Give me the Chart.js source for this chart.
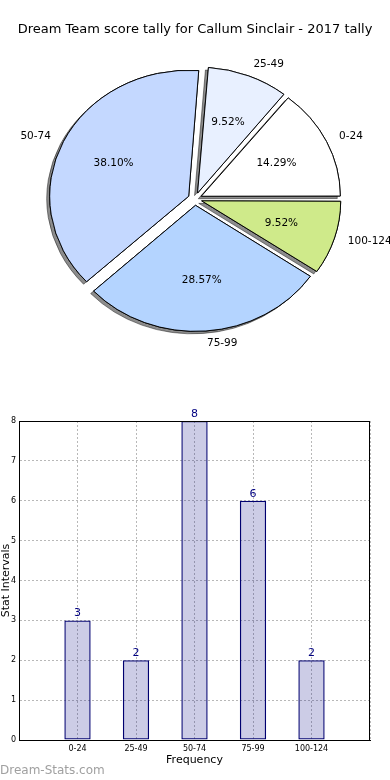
<!DOCTYPE html>
<html>
<head>
<meta charset="utf-8">
<script src="https://cdn.jsdelivr.net/npm/chart.js@4/dist/chart.umd.min.js"></script>
<style>
  html, body { margin: 0; padding: 0; background: #fff; }
  #wrap { position: relative; width: 390px; height: 780px; overflow: hidden; }
  canvas { position: absolute; left: 0; }
  #pie { top: 0; }
  #bar { top: 390px; }
</style>
</head>
<body>
<div id="wrap">
  <canvas id="pie" width="390" height="390"></canvas>
  <canvas id="bar" width="390" height="390"></canvas>
</div>
<script>
// ---- data ----
const chartTitle = 'Dream Team score tally for Callum Sinclair - 2017 tally';
const categories = ['0-24', '25-49', '50-74', '75-99', '100-124'];
const counts = [3, 2, 8, 6, 2];
const xAxisTitle = 'Frequency';
const yAxisTitle = 'Stat Intervals';
const yTicks = [0, 1, 2, 3, 4, 5, 6, 7, 8];
const watermark = 'Dream-Stats.com';

// ---- styles ----
const pieColors = ['#ffffff', '#e8f0ff', '#c4d8ff', '#b4d4ff', '#cfea8a'];
const FONT = 'DejaVu Sans';
const PIE_R = 139;
const PIE_K = 126 / 139;      // vertical squash (ellipse)
const EXPLODE = 7;            // px
const total = counts.reduce((a, b) => a + b, 0);

// Chart.js goes clockwise from the top; reverse so the order runs counter-clockwise from east
const rev = a => a.slice().reverse();

const piePlugin = {
  id: 'piePlugin',
  afterDatasetsUpdate(chart) {
    chart.getDatasetMeta(0).data.forEach(el => {
      const fix = 1 - Math.sin(Math.min(Math.PI, el.circumference));
      el.outerRadius = PIE_R - EXPLODE * fix;
    });
  },
  beforeDatasetsDraw(chart) {
    const ctx = chart.ctx;
    const arcs = chart.getDatasetMeta(0).data;
    const cx = arcs[0].x, cy = arcs[0].y;
    ctx.save();
    ctx.translate(cx, cy); ctx.scale(1, PIE_K); ctx.translate(-cx, -cy);
    ctx.save();
    ctx.shadowColor = 'rgba(0,0,0,0.45)';
    ctx.shadowOffsetX = -3;
    ctx.shadowOffsetY = 2.5;
    ctx.shadowBlur = 0;
    arcs.forEach(a => a.draw(ctx));
    ctx.restore();
  },
  afterDatasetsDraw(chart) {
    const ctx = chart.ctx;
    ctx.restore();
    const arcs = chart.getDatasetMeta(0).data;
    const vals = chart.data.datasets[0].data;
    ctx.save();
    ctx.fillStyle = '#000';
    ctx.font = '10.5px "' + FONT + '"';
    ctx.textBaseline = 'middle';
    arcs.forEach((a, i) => {
      const mid = (a.startAngle + a.endAngle) / 2;
      const c = Math.cos(mid), s = Math.sin(mid);
      const lx = a.x + (EXPLODE + 1.1 * PIE_R) * c;
      const ly = a.y + (EXPLODE + 1.1 * PIE_R) * s * PIE_K;
      ctx.textAlign = c > 0 ? 'left' : 'right';
      ctx.fillText(chart.data.labels[i], lx, ly);
      const px = a.x + (EXPLODE + 0.6 * PIE_R) * c;
      const py = a.y + (EXPLODE + 0.6 * PIE_R) * s * PIE_K;
      ctx.textAlign = 'center';
      ctx.fillText((vals[i] / total * 100).toFixed(2) + '%', px, py);
    });
    ctx.font = '13px "' + FONT + '"';
    ctx.textAlign = 'center';
    ctx.fillText(chartTitle, chart.width / 2, 30);
    ctx.restore();
  }
};

new Chart(document.getElementById('pie'), {
  type: 'pie',
  data: {
    labels: rev(categories),
    datasets: [{
      data: rev(counts),
      backgroundColor: rev(pieColors),
      borderColor: '#000',
      borderWidth: 1,
      offset: EXPLODE * 4,
      radius: PIE_R,
      clip: false
    }]
  },
  options: {
    responsive: false,
    animation: false,
    events: [],
    rotation: 90,
    layout: { padding: { top: 8 } },
    plugins: { legend: { display: false }, tooltip: { enabled: false } }
  },
  plugins: [piePlugin]
});

const barPlugin = {
  id: 'barPlugin',
  afterDatasetsDraw(chart) {
    const ctx = chart.ctx;
    const meta = chart.getDatasetMeta(0);
    const vals = chart.data.datasets[0].data;
    ctx.save();
    ctx.fillStyle = '#000080';
    ctx.font = '11px "' + FONT + '"';
    ctx.textAlign = 'center';
    ctx.textBaseline = 'bottom';
    meta.data.forEach((b, i) => {
      if (vals[i] == null) return;
      ctx.fillText(String(vals[i]), b.x, b.y - 1.5);
    });
    ctx.restore();
  },
  afterDraw(chart) {
    const ctx = chart.ctx;
    const a = chart.chartArea;
    ctx.save();
    ctx.strokeStyle = '#000';
    ctx.lineWidth = 1;
    ctx.strokeRect(Math.round(a.left) + 0.5, Math.round(a.top) + 0.5, Math.round(a.right - a.left) - 1, Math.round(a.bottom - a.top));
    ctx.fillStyle = '#000';
    ctx.font = '11px "' + FONT + '"';
    ctx.textAlign = 'center';
    ctx.textBaseline = 'middle';
    ctx.fillText(xAxisTitle, (a.left + a.right) / 2, 370);
    ctx.save();
    ctx.translate(8.5, (a.top + a.bottom) / 2);
    ctx.rotate(-Math.PI / 2);
    ctx.textBaseline = 'alphabetic';
    ctx.fillText(yAxisTitle, 0, 0);
    ctx.restore();
    ctx.fillStyle = '#a0a0a0';
    ctx.font = '12px "' + FONT + '"';
    ctx.textAlign = 'left';
    ctx.fillText(watermark, 0, 381);
    ctx.restore();
  }
};

const gridStyle = { color: 'rgba(0,0,0,0.28)', lineWidth: 1, drawTicks: false, offset: false };
const borderStyle = { color: '#000', width: 1, dash: [2, 2] };

new Chart(document.getElementById('bar'), {
  type: 'bar',
  data: {
    labels: [''].concat(categories, ['']),
    datasets: [{
      data: [null].concat(counts, [null]),
      backgroundColor: 'rgba(0,0,128,0.2)',
      borderColor: '#000070',
      borderWidth: 1.3,
      borderSkipped: false,
      barPercentage: 0.45,
      categoryPercentage: 1
    }]
  },
  options: {
    responsive: false,
    animation: false,
    events: [],
    layout: { padding: { top: 31, right: 20, left: 0, bottom: 0 } },
    plugins: { legend: { display: false }, tooltip: { enabled: false } },
    scales: {
      x: {
        offset: false,
        grid: gridStyle,
        border: borderStyle,
        ticks: { font: { size: 8, family: FONT }, color: '#000', padding: 4, maxRotation: 0, autoSkip: false },
        afterFit(s) { s.height = 40; }
      },
      y: {
        min: yTicks[0],
        max: yTicks[yTicks.length - 1],
        grid: gridStyle,
        border: borderStyle,
        afterBuildTicks(s) { s.ticks = yTicks.map(v => ({ value: v })); },
        ticks: { font: { size: 8, family: FONT }, color: '#000', padding: 3 },
        afterFit(s) { s.width = 19; }
      }
    }
  },
  plugins: [barPlugin]
});
</script>
</body>
</html>
